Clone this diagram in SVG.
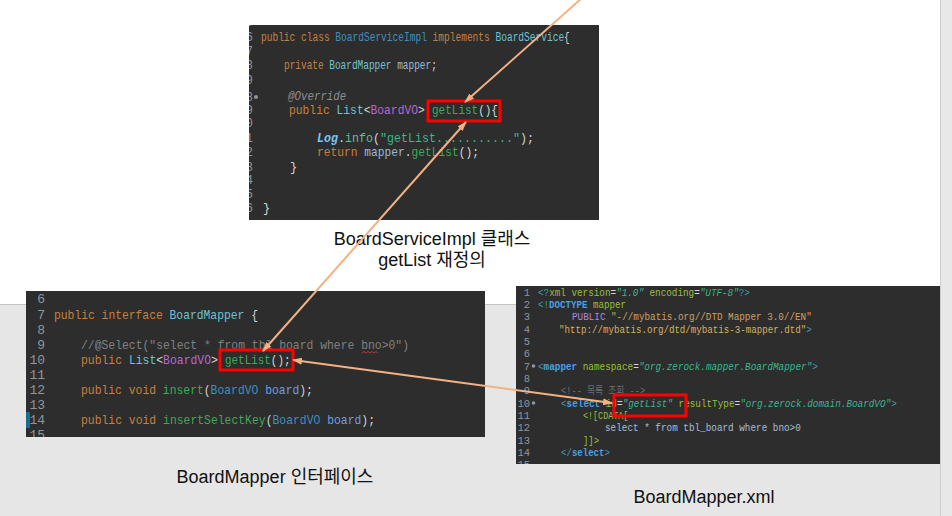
<svg xmlns="http://www.w3.org/2000/svg" width="952" height="516" viewBox="0 0 952 516">
<style>
.code{font-family:"Liberation Mono","Noto Sans CJK KR",monospace;white-space:pre}
.t1{font-size:12px}.t2{font-size:13px}.t3{font-size:10.5px}
.ln{fill:#8c96a0;text-anchor:end}
.w{fill:#d6d6d6}.kw{fill:#c5803e}.cy{fill:#6ec3d3}.bl{fill:#3f8fbf}.pu{fill:#b36ad0}.gr{fill:#3fa85a}
.fd{fill:#9bb8d8}.fd2{fill:#6f9ee0}.cm{fill:#808080}.an{fill:#8c8c8c;font-style:italic}
.lg{fill:#7ec3f0;font-weight:bold;font-style:italic}.inf{fill:#5fbf9a}.st{fill:#3db88d}
.tg{fill:#3e9bb0}.tb{fill:#4aa0e0;font-weight:bold}.at{fill:#9bbf3c}.va{fill:#3fb38f;font-style:italic}
.pb{fill:#b088d8}.s2{fill:#d0a060}.s3{fill:#d8b060}.xc{fill:#6f6f6f}.sq{fill:#a8bfd8}
.panel{fill:#2d2d2d}
.hl{fill:none;stroke:#ff0000;stroke-width:3}
.lbl{font-family:"Liberation Sans","Noto Sans CJK KR",sans-serif;font-size:18px;fill:#111;text-anchor:middle}
.con{stroke:#f4b183;stroke-width:2;fill:none}
</style>
<defs>
<marker id="ah" viewBox="0 0 10 10" refX="9" refY="5" markerWidth="10" markerHeight="10" markerUnits="userSpaceOnUse" orient="auto-start-reverse">
<path d="M0,1.5 L10,5 L0,8.5 z" fill="#f4b183"/>
</marker>
<clipPath id="c1"><rect x="249" y="25" width="350" height="195"/></clipPath>
<clipPath id="c2"><rect x="26" y="291" width="459" height="146"/></clipPath>
<clipPath id="c3"><rect x="516" y="286" width="424" height="178"/></clipPath>
</defs>
<rect x="0" y="0" width="952" height="516" fill="#ffffff"/>
<rect x="0" y="304" width="952" height="212" fill="#e6e6e6"/>
<line x1="0" y1="304.5" x2="940" y2="304.5" stroke="#c4c4c4"/>
<rect x="940" y="0" width="12" height="516" fill="#e8e8e8"/>
<line x1="940.5" y1="0" x2="940.5" y2="516" stroke="#cfcfcf"/>

<g id="node-service-impl">
<rect class="panel" x="249" y="25" width="350" height="195"/>
<g clip-path="url(#c1)" class="code t1">
<text class="ln" x="253" y="26">5</text>
<text class="ln" x="253" y="41">6</text>
<text class="ln" x="253" y="55">7</text>
<text class="ln" x="253" y="69">8</text>
<text class="ln" x="253" y="84">9</text>
<text class="ln" x="253" y="101">8</text>
<text class="ln" x="253" y="114">9</text>
<text class="ln" x="253" y="127">0</text>
<text class="ln" x="253" y="142">1</text>
<text class="ln" x="253" y="156">2</text>
<text class="ln" x="253" y="171">3</text>
<text class="ln" x="253" y="184">4</text>
<text class="ln" x="253" y="198">5</text>
<text class="ln" x="253" y="212">6</text>
<circle cx="256" cy="97" r="2" fill="#8c96a0"/>
<text transform="translate(261,41) scale(0.795,1)"><tspan class="kw">public class </tspan><tspan class="bl">BoardServiceImpl</tspan><tspan class="kw"> implements </tspan><tspan class="cy">BoardService</tspan><tspan class="w">{</tspan></text>
<text transform="translate(284,69) scale(0.787,1)"><tspan class="kw">private </tspan><tspan class="cy">BoardMapper</tspan><tspan class="fd"> mapper</tspan><tspan class="w">;</tspan></text>
<text class="an" transform="translate(288,100) scale(0.9,1)">@Override</text>
<text transform="translate(289,114) scale(0.944,1)"><tspan class="kw">public </tspan><tspan class="cy">List</tspan><tspan class="w">&lt;</tspan><tspan class="pu">BoardVO</tspan><tspan class="w">&gt;</tspan></text>
<text transform="translate(432,114) scale(0.917,1)"><tspan class="gr">getList</tspan><tspan class="w">(){</tspan></text>
<text transform="translate(317,142) scale(0.972,1)"><tspan class="lg">Log</tspan><tspan class="w">.</tspan><tspan class="inf">info</tspan><tspan class="w">(</tspan><tspan class="st">"getList..........."</tspan><tspan class="w">);</tspan></text>
<text transform="translate(317,156) scale(0.9375,1)"><tspan class="kw">return </tspan><tspan class="fd">mapper</tspan><tspan class="w">.</tspan><tspan class="gr">getList</tspan><tspan class="w">();</tspan></text>
<text class="w" x="290" y="171">}</text>
<text class="w" x="263" y="212">}</text>
</g>
<rect class="hl" x="428" y="101" width="72" height="20"/>
<text class="lbl" x="432" y="245">BoardServiceImpl 클래스</text>
<text class="lbl" x="432" y="266">getList 재정의</text>
</g>

<g id="node-mapper-interface">
<rect class="panel" x="26" y="291" width="459" height="146"/>
<rect x="26" y="412" width="4" height="16" fill="#1f6a8a"/>
<g clip-path="url(#c2)" class="code t2">
<text class="ln" x="45" y="303">6</text>
<text class="ln" x="45" y="319">7</text>
<text class="ln" x="45" y="334">8</text>
<text class="ln" x="45" y="349">9</text>
<text class="ln" x="45" y="364">10</text>
<text class="ln" x="45" y="379">11</text>
<text class="ln" x="45" y="394">12</text>
<text class="ln" x="45" y="409">13</text>
<text class="ln" x="45" y="424">14</text>
<text class="ln" x="45" y="439">15</text>
<text transform="translate(54,319) scale(0.872,1)"><tspan class="kw">public interface </tspan><tspan class="cy">BoardMapper</tspan><tspan class="w"> {</tspan></text>
<text class="cm" transform="translate(81,349) scale(0.876,1)">//@Select("select * from tbl board where bno&gt;0")</text>
<text transform="translate(81,364) scale(0.878,1)"><tspan class="kw">public </tspan><tspan class="cy">List</tspan><tspan class="w">&lt;</tspan><tspan class="pu">BoardVO</tspan><tspan class="w">&gt;</tspan></text>
<text transform="translate(225,364) scale(0.84,1)"><tspan class="gr">getList</tspan><tspan class="w">();</tspan></text>
<text transform="translate(81,394) scale(0.875,1)"><tspan class="kw">public void </tspan><tspan class="gr">insert</tspan><tspan class="w">(</tspan><tspan class="bl">BoardVO</tspan><tspan class="fd2"> board</tspan><tspan class="w">);</tspan></text>
<text transform="translate(81,424) scale(0.877,1)"><tspan class="kw">public void </tspan><tspan class="gr">insertSelectKey</tspan><tspan class="w">(</tspan><tspan class="bl">BoardVO</tspan><tspan class="fd2"> board</tspan><tspan class="w">);</tspan></text>
<path d="M362,353 l2,-1.5 l2,1.5 l2,-1.5 l2,1.5 l2,-1.5 l2,1.5 l2,-1.5 l2,1.5" stroke="#d04040" stroke-width="0.8" fill="none"/>
</g>
<rect class="hl" x="220" y="350" width="73" height="20"/>
<text class="lbl" x="275" y="483">BoardMapper 인터페이스</text>
</g>

<g id="node-mapper-xml">
<rect class="panel" x="516" y="286" width="424" height="178"/>
<g clip-path="url(#c3)" class="code t3">
<text class="ln" x="530" y="296">1</text>
<text class="ln" x="530" y="308">2</text>
<text class="ln" x="530" y="320">3</text>
<text class="ln" x="530" y="333">4</text>
<text class="ln" x="530" y="345">5</text>
<text class="ln" x="530" y="357">6</text>
<text class="ln" x="530" y="370">7</text>
<text class="ln" x="530" y="382">8</text>
<text class="ln" x="530" y="394">9</text>
<text class="ln" x="530" y="407">10</text>
<text class="ln" x="530" y="419">11</text>
<text class="ln" x="530" y="431">12</text>
<text class="ln" x="530" y="444">13</text>
<text class="ln" x="530" y="456">14</text>
<text class="ln" x="530" y="468">15</text>
<circle cx="533.5" cy="366" r="1.8" fill="#8c96a0"/>
<circle cx="533.5" cy="403" r="1.8" fill="#8c96a0"/>
<text transform="translate(538,296) scale(0.886,1)"><tspan class="tg">&lt;?</tspan><tspan class="at">xml version</tspan><tspan class="w">=</tspan><tspan class="va">"1.0"</tspan><tspan class="at"> encoding</tspan><tspan class="w">=</tspan><tspan class="va">"UTF-8"</tspan><tspan class="tg">?&gt;</tspan></text>
<text transform="translate(538,308) scale(0.873,1)"><tspan class="tg">&lt;!</tspan><tspan class="tb">DOCTYPE</tspan><tspan class="at"> mapper</tspan></text>
<text transform="translate(572,320) scale(0.886,1)"><tspan class="pb">PUBLIC </tspan><tspan class="s2">"-//mybatis.org//DTD Mapper 3.0//EN"</tspan></text>
<text transform="translate(559,333) scale(0.873,1)"><tspan class="s3">"http://mybatis.org/dtd/mybatis-3-mapper.dtd"</tspan><tspan class="tg">&gt;</tspan></text>
<text transform="translate(538,370) scale(0.889,1)"><tspan class="tg">&lt;</tspan><tspan class="tb">mapper</tspan><tspan class="at"> namespace</tspan><tspan class="w">=</tspan><tspan class="va">"org.zerock.mapper.BoardMapper"</tspan><tspan class="tg">&gt;</tspan></text>
<text class="xc" transform="translate(561,394) scale(0.83,1)">&lt;!-- 목록 조회 --&gt;</text>
<text transform="translate(561,407) scale(0.889,1)"><tspan class="tg">&lt;</tspan><tspan class="tb">select</tspan><tspan class="at"> id</tspan><tspan class="w">=</tspan><tspan class="va">"getList"</tspan><tspan class="at"> resultType</tspan><tspan class="w">=</tspan><tspan class="va">"org.zerock.domain.BoardVO"</tspan><tspan class="tg">&gt;</tspan></text>
<text class="at" transform="translate(583,419) scale(0.8,1)">&lt;![CDATA[</text>
<text class="sq" transform="translate(605,431) scale(0.889,1)">select * from tbl_board where bno&gt;0</text>
<text class="at" transform="translate(583,444) scale(0.85,1)">]]&gt;</text>
<text transform="translate(561,456) scale(0.864,1)"><tspan class="tg">&lt;/</tspan><tspan class="tb">select</tspan><tspan class="tg">&gt;</tspan></text>
</g>
<rect class="hl" x="614" y="395" width="72" height="21"/>
<text class="lbl" x="704" y="503">BoardMapper.xml</text>
</g>

<g id="connectors">
<line class="con" x1="582" y1="-2" x2="465" y2="102" marker-end="url(#ah)"/>
<line class="con" x1="466" y1="122" x2="263" y2="351" marker-start="url(#ah)" marker-end="url(#ah)"/>
<line class="con" x1="293" y1="360" x2="612" y2="403" marker-start="url(#ah)" marker-end="url(#ah)"/>
</g>
</svg>
